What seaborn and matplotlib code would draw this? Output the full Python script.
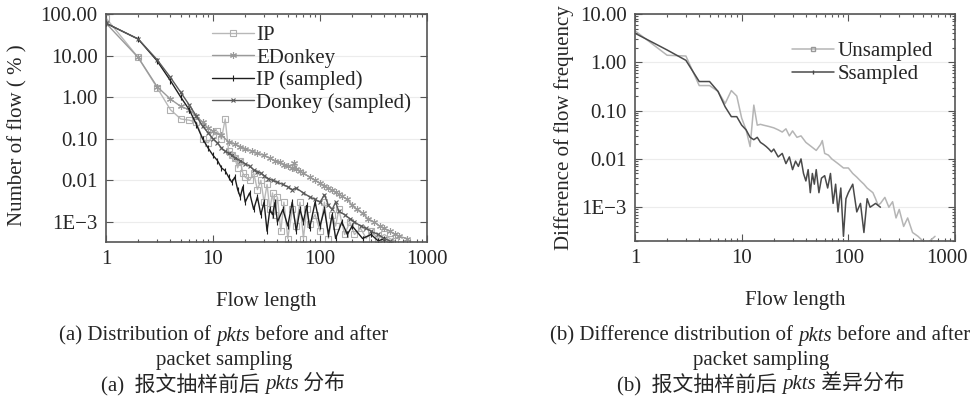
import numpy as np
import pandas as pd
import matplotlib
matplotlib.use("Agg")
import matplotlib.pyplot as plt
import matplotlib.transforms as mtransforms
from matplotlib.lines import Line2D
import seaborn as sns
from matplotlib.ticker import FixedLocator, FixedFormatter, LogLocator, NullFormatter

# ---- data ----
# (a) distribution of pkts
ip_x = [1, 2, 3, 4, 5, 6, 7, 8, 9, 10, 11, 12, 13, 14, 15, 16, 17, 18, 19, 20, 22, 24, 26, 28, 30,
        32, 34, 36, 38, 40, 43, 46, 50, 55, 60, 65, 70, 75, 80, 90, 100, 110, 120, 130, 140, 150,
        170, 190, 210, 240, 270, 300, 350, 400, 450, 500]
ip_y = [80, 9, 1.7, 0.5, 0.3, 0.28, 0.25, 0.1, 0.08, 0.12, 0.15, 0.1, 0.3, 0.05, 0.04, 0.035, 0.02,
        0.03, 0.015, 0.012, 0.01, 0.015, 0.006, 0.01, 0.003, 0.008, 0.002, 0.005, 0.0015, 0.004,
        0.0006, 0.003, 0.0004, 0.002, 0.0008, 0.003, 0.0004, 0.002, 0.0009, 0.0015, 0.0006, 0.003,
        0.0004, 0.0015, 0.0008, 0.002, 0.0005, 0.001, 0.0005, 0.0007, 0.0004, 0.0006, 0.0004,
        0.0005, 0.0004, 0.00035]

ed_x = [1, 2, 3, 4, 5, 6, 7, 8, 9, 10, 12, 14, 16, 18, 20, 23, 26, 30, 34, 38, 42, 46, 50, 55, 57,
        60, 65, 70, 80, 90, 100, 110, 120, 130, 140, 150, 160, 180, 200, 220, 250, 280, 320, 360,
        400, 450, 500, 550, 650]
ed_y = [60, 9, 1.8, 0.9, 0.6, 0.5, 0.35, 0.25, 0.18, 0.15, 0.12, 0.085, 0.075, 0.065, 0.058, 0.05,
        0.045, 0.04, 0.034, 0.03, 0.027, 0.024, 0.022, 0.02, 0.026, 0.019, 0.017, 0.015, 0.012,
        0.01, 0.0085, 0.0075, 0.0065, 0.0058, 0.0052, 0.0046, 0.0042, 0.0035, 0.0025, 0.002,
        0.0016, 0.0012, 0.001, 0.0008, 0.0007, 0.0006, 0.0005, 0.00045, 0.0004]

ips_x = [1, 2, 3, 4, 5, 6, 7, 8, 9, 10, 11, 12, 13, 14, 15, 16, 17, 18, 19, 20, 22, 24, 26, 28, 30,
         32, 34, 36, 38, 40, 45, 50, 55, 60, 65, 70, 75, 80, 90, 100, 110, 120, 130, 140, 160, 180,
         200, 250, 300, 350, 400]
ips_y = [60, 25, 7.5, 2.5, 1.0, 0.5, 0.22, 0.1, 0.06, 0.04, 0.03, 0.02, 0.017, 0.012, 0.009, 0.012,
         0.006, 0.004, 0.007, 0.003, 0.005, 0.002, 0.004, 0.0015, 0.003, 0.0006, 0.002, 0.0015,
         0.003, 0.001, 0.002, 0.0008, 0.003, 0.0006, 0.002, 0.001, 0.0025, 0.0007, 0.003, 0.0008,
         0.002, 0.0005, 0.0015, 0.0004, 0.001, 0.0005, 0.0008, 0.0004, 0.0005, 0.00035, 0.0004]

eds_x = [1, 2, 3, 4, 5, 6, 7, 8, 9, 10, 11, 12, 13, 14, 15, 16, 18, 20, 22, 24, 26, 28, 30, 33, 36,
         40, 45, 50, 55, 60, 70, 80, 90, 100, 110, 120, 130, 140, 150, 170, 190, 210, 240, 270,
         300, 350, 400, 450]
eds_y = [60, 25, 8, 3, 1.3, 0.65, 0.35, 0.2, 0.14, 0.1, 0.08, 0.06, 0.05, 0.045, 0.04, 0.035, 0.03,
         0.025, 0.022, 0.018, 0.016, 0.015, 0.013, 0.011, 0.01, 0.009, 0.008, 0.007, 0.006, 0.0065,
         0.005, 0.004, 0.0035, 0.003, 0.0045, 0.0025, 0.002, 0.003, 0.0018, 0.0015, 0.0012, 0.001,
         0.0008, 0.0007, 0.0006, 0.0005, 0.0004, 0.00035]

# (b) difference distribution of pkts
uns_x = [1, 2, 3, 4, 5, 6, 7, 8, 9, 10, 11, 12, 13, 14, 15, 16, 18, 20, 22, 24, 26, 28, 30, 33, 36,
         40, 45, 50, 55, 57, 60, 65, 70, 80, 90, 100, 110, 120, 130, 140, 150, 170, 180, 190, 200,
         220, 240, 260, 280, 300, 330, 360, 400, 450, 500, 550, 650]
uns_y = [4.5, 1.4, 1.35, 0.33, 0.33, 0.25, 0.14, 0.26, 0.2, 0.07, 0.04, 0.018, 0.13, 0.05, 0.052,
         0.05, 0.047, 0.044, 0.04, 0.036, 0.042, 0.03, 0.038, 0.028, 0.03, 0.022, 0.018, 0.015,
         0.02, 0.024, 0.013, 0.012, 0.01, 0.008, 0.0065, 0.0065, 0.005, 0.0042, 0.0035, 0.003,
         0.0025, 0.002, 0.0015, 0.0011, 0.0012, 0.0016, 0.001, 0.0013, 0.0006, 0.0009, 0.0004,
         0.0006, 0.0003, 0.00025, 0.0002, 0.00018, 0.00025]

smp_x = [1, 2, 3, 4, 5, 6, 7, 8, 9, 10, 11, 12, 13, 14, 15, 16, 17, 18, 19, 20, 22, 24, 26, 28, 30,
         32, 34, 36, 38, 40, 42, 44, 46, 48, 50, 53, 56, 60, 64, 68, 72, 76, 80, 85, 90, 95, 100,
         110, 120, 130, 140, 150, 160, 180, 200]
smp_y = [4, 1.8, 1.1, 0.4, 0.4, 0.25, 0.12, 0.075, 0.075, 0.05, 0.04, 0.028, 0.025, 0.028, 0.022,
         0.02, 0.018, 0.016, 0.014, 0.016, 0.011, 0.013, 0.008, 0.011, 0.006, 0.009, 0.007, 0.01,
         0.005, 0.0035, 0.006, 0.002, 0.005, 0.003, 0.006, 0.002, 0.004, 0.0045, 0.0025, 0.005,
         0.0012, 0.003, 0.0008, 0.0025, 0.00025, 0.0015, 0.002, 0.003, 0.0008, 0.0012, 0.0003,
         0.0015, 0.001, 0.0012, 0.001]

x_ticks = [1, 10, 100, 1000]
x_labels = ["1", "10", "100", "1000"]
ya_ticks = [1e-3, 1e-2, 1e-1, 1, 10, 100]
ya_labels = ["1E\u22123", "0.01", "0.10", "1.00", "10.00", "100.00"]
yb_ticks = [1e-3, 1e-2, 1e-1, 1, 10]
yb_labels = ["1E\u22123", "0.01", "0.10", "1.00", "10.00"]

sns.set_style("ticks")
plt.rcParams["font.family"] = ["Liberation Serif", "Noto Sans CJK SC"]
plt.rcParams["axes.unicode_minus"] = False
FS = 15

fig = plt.figure(figsize=(9.71, 4.03), dpi=100)
W, H = 971, 403
ax1 = fig.add_axes([106 / W, 1 - 242 / H, 321 / W, 228 / H])
ax2 = fig.add_axes([635 / W, 1 - 241 / H, 320 / W, 227 / H])

sns.lineplot(x=ip_x, y=ip_y, ax=ax1, color="#b8b8b8", lw=1, marker="s", ms=4,
             mfc="none", mec="#b0b0b0", mew=0.8, label="IP")
sns.lineplot(x=ed_x, y=ed_y, ax=ax1, color="#9a9a9a", lw=1, marker=(6, 2, 0), ms=5,
             mec="#9a9a9a", mew=0.8, label="EDonkey")
sns.lineplot(x=ips_x, y=ips_y, ax=ax1, color="#1e1e1e", lw=1, marker="|", ms=4,
             mec="#1e1e1e", mew=0.8, label="IP (sampled)")
sns.lineplot(x=eds_x, y=eds_y, ax=ax1, color="#5a5a5a", lw=1, marker="x", ms=3.5,
             mec="#5a5a5a", mew=0.8, label="Donkey (sampled)")

sns.lineplot(x=uns_x, y=uns_y, ax=ax2, color="#b5b5b5", lw=1.1, legend=False)
sns.lineplot(x=smp_x, y=smp_y, ax=ax2, color="#4a4a4a", lw=1.1, legend=False)

for ax, yt, yl, ylim, ylab in [(ax1, ya_ticks, ya_labels, (3.3e-4, 100), "Number of flow ( % )"),
                               (ax2, yb_ticks, yb_labels, (2.0e-4, 10), "Difference of flow frequency")]:
    ax.set_xscale("log")
    ax.set_yscale("log")
    ax.set_xlim(1, 1000)
    ax.set_ylim(*ylim)
    ax.xaxis.set_major_locator(FixedLocator(x_ticks))
    ax.xaxis.set_major_formatter(FixedFormatter(x_labels))
    ax.xaxis.set_minor_locator(LogLocator(base=10, subs=np.arange(2, 10)))
    ax.xaxis.set_minor_formatter(NullFormatter())
    ax.yaxis.set_major_locator(FixedLocator(yt))
    ax.yaxis.set_major_formatter(FixedFormatter(yl))
    ax.yaxis.set_minor_locator(LogLocator(base=10, subs=np.arange(2, 10)))
    ax.yaxis.set_minor_formatter(NullFormatter())
    ax.grid(axis="y", which="major", color="#ececec", lw=0.8)
    ax.tick_params(which="both", direction="in", top=True, right=True, labelsize=FS,
                   color="#555555", width=0.8)
    ax.tick_params(which="major", length=5, pad=6)
    ax.tick_params(which="minor", length=2.5)
    for s in ax.spines.values():
        s.set_color("#555555")
        s.set_linewidth(1.2)
    ax.set_xlabel("Flow length", fontsize=FS, labelpad=16)
    ax.set_ylabel(ylab, fontsize=FS, labelpad=4)

ax1.yaxis.set_label_coords(-0.245, 0.47)

ax1.legend(loc="upper left", bbox_to_anchor=(0.305, 0.985), frameon=False, fontsize=FS,
           handlelength=2.0, handletextpad=0.1, labelspacing=0.13, borderaxespad=0)
legend_b = [Line2D([], [], color="#b5b5b5", lw=1.1, marker="s", ms=3, mfc="none", mec="#999999",
                   label="Unsampled"),
            Line2D([], [], color="#4a4a4a", lw=1.1, marker="|", ms=3, mec="#4a4a4a",
                   label="Ssampled")]
ax2.legend(handles=legend_b, loc="upper left", bbox_to_anchor=(0.465, 0.915), frameon=False,
           fontsize=FS, handlelength=2.0, handletextpad=0.2, labelspacing=0.15, borderaxespad=0)

# keep the last x label of panel (b) inside the picture
lab_1000 = ax2.get_xticklabels()[-1]
lab_1000.set_transform(lab_1000.get_transform() +
                       mtransforms.ScaledTranslation(-8 / 100, 0, fig.dpi_scale_trans))


def rich_line(cx, cy, parts):
    fig.canvas.draw()
    r = fig.canvas.get_renderer()
    texts = []
    for s, it in parts:
        t = fig.text(0, cy / H, s, fontsize=FS, style="italic" if it else "normal",
                     ha="left", va="center", transform=fig.transFigure)
        texts.append(t)
    widths = [t.get_window_extent(r).width for t in texts]
    x = cx - sum(widths) / 2
    for t, w in zip(texts, widths):
        t.set_x(x / W)
        x += w


y = lambda v: H - v
rich_line(224, y(336), [("(a) Distribution of ", False), ("pkts", True), (" before and after", False)])
rich_line(224, y(360), [("packet sampling", False)])
rich_line(223, y(385), [("(a)  报文抽样前后 ", False), ("pkts", True), (" 分布", False)])
rich_line(760, y(336), [("(b) Difference distribution of ", False), ("pkts", True), (" before and after", False)])
rich_line(761, y(360), [("packet sampling", False)])
rich_line(761, y(385), [("(b)  报文抽样前后 ", False), ("pkts", True), (" 差异分布", False)])

fig.savefig("out.png", dpi=100)
